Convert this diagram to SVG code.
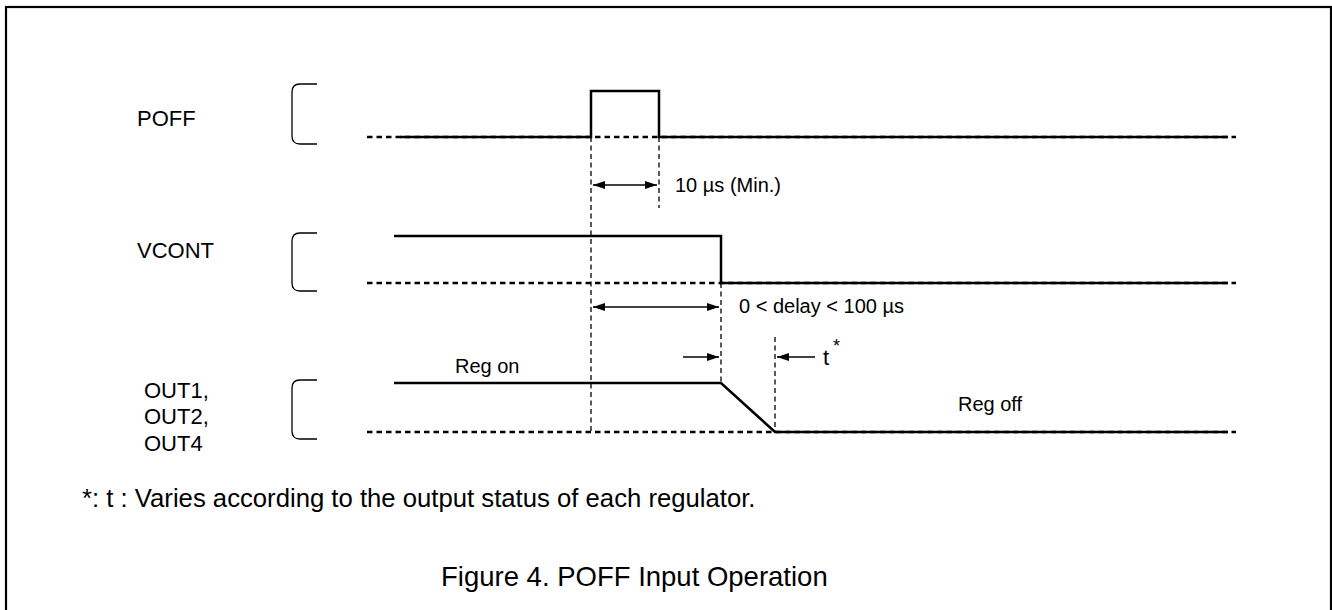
<svg xmlns="http://www.w3.org/2000/svg" width="1332" height="610" viewBox="0 0 1332 610">
<defs>
<style>
.t{font-family:"Liberation Sans",Arial,sans-serif;fill:#000}
.lbl{font-size:22px}
.ann{font-size:20px}
.sig{fill:none;stroke:#000;stroke-width:2.5;stroke-linejoin:miter}
.base{fill:none;stroke:#000;stroke-width:2.5;stroke-dasharray:5.5 4}
.vd{fill:none;stroke:#000;stroke-width:1.3;stroke-dasharray:5 3.5}
.br{fill:none;stroke:#000;stroke-width:1.3}
.ar{fill:none;stroke:#000;stroke-width:1.3}
</style>
<marker id="ah" viewBox="0 0 12 8" refX="12" refY="4" markerWidth="12" markerHeight="8" markerUnits="userSpaceOnUse" orient="auto-start-reverse">
<path d="M0,0 L12,4 L0,8 Z" fill="#000"/>
</marker>
</defs>
<rect x="6" y="7" width="1325" height="620" fill="#fff" stroke="#000" stroke-width="2.2"/>

<g id="poff">
<text class="t lbl" x="137" y="126">POFF</text>
<path class="br" d="M317,84 H300 Q292,84 292,92 V136 Q292,144 300,144 H317"/>
<line class="base" x1="367" y1="137" x2="1236" y2="137"/>
<path class="sig" d="M400,137 H591 V91 H659 V137 H1228"/>
</g>

<g id="vcont">
<text class="t lbl" x="137" y="258">VCONT</text>
<path class="br" d="M317,233 H300 Q292,233 292,241 V283 Q292,291 300,291 H317"/>
<line class="base" x1="367" y1="283" x2="1236" y2="283"/>
<path class="sig" d="M394,236 H721 V283 H1228"/>
</g>

<g id="out">
<text class="t lbl" x="144" y="398">OUT1,</text>
<text class="t lbl" x="144" y="424">OUT2,</text>
<text class="t lbl" x="144" y="451">OUT4</text>
<path class="br" d="M317,380 H300 Q292,380 292,388 V431 Q292,439 300,439 H317"/>
<line class="base" x1="367" y1="432" x2="1236" y2="432"/>
<path class="sig" d="M394,383 H721 L775,432 H1228"/>
<text class="t ann" x="455" y="373">Reg on</text>
<text class="t ann" x="958" y="411">Reg off</text>
</g>

<g id="connectors">
<line class="vd" x1="591" y1="137" x2="591" y2="432"/>
<line class="vd" x1="659" y1="137" x2="659" y2="208"/>
<line class="vd" x1="721" y1="283" x2="721" y2="383"/>
<line class="vd" x1="775" y1="337" x2="775" y2="432"/>
<line class="ar" x1="593" y1="185" x2="657" y2="185" marker-start="url(#ah)" marker-end="url(#ah)"/>
<line class="ar" x1="593" y1="307" x2="719" y2="307" marker-start="url(#ah)" marker-end="url(#ah)"/>
<line class="ar" x1="683" y1="357" x2="719" y2="357" marker-end="url(#ah)"/>
<line class="ar" x1="815" y1="357" x2="777" y2="357" marker-end="url(#ah)"/>
</g>

<g id="annotations">
<text class="t ann" x="675" y="192">10 µs (Min.)</text>
<text class="t ann" x="739" y="313">0 &lt; delay &lt; 100 µs</text>
<text class="t" x="823" y="365" font-size="22">t</text>
<text class="t" x="833" y="352" font-size="18">*</text>
<text class="t" x="82" y="507" font-size="25.7">*: t : Varies according to the output status of each regulator.</text>
<text class="t" x="441" y="586" font-size="27.5">Figure 4. POFF Input Operation</text>
</g>
</svg>
